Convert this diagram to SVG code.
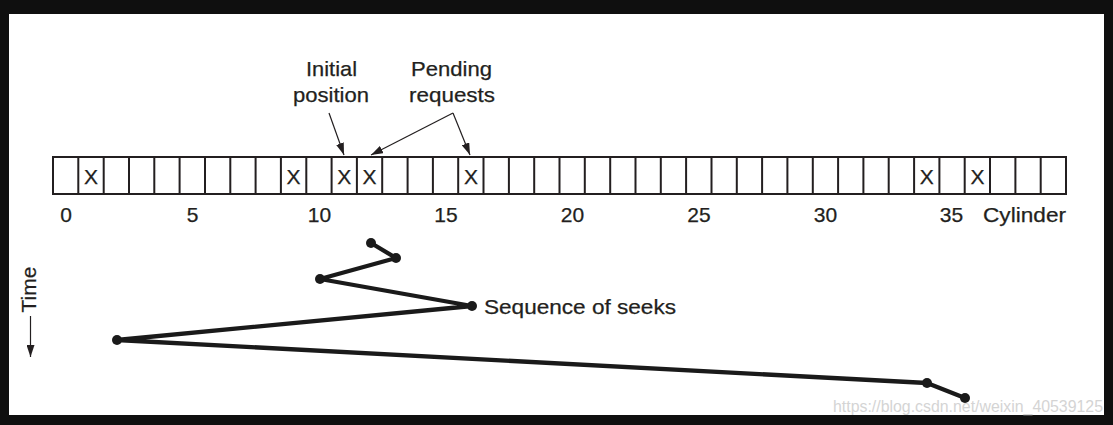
<svg xmlns="http://www.w3.org/2000/svg" width="1113" height="425" viewBox="0 0 1113 425">
  <style>
    .t { font-family: "Liberation Sans", Arial, sans-serif; font-size: 21px; fill: #231f20; stroke: #231f20; stroke-width: 0.25; }
    .cell { fill: #ffffff; stroke: #231f20; stroke-width: 2; }
    .thin { stroke: #231f20; stroke-width: 1.2; fill: none; }
    .seek { stroke: #1a1a1a; stroke-width: 4.3; fill: none; stroke-linejoin: round; stroke-linecap: round; }
    .dot { fill: #1a1a1a; }
    .wm { font-family: "Liberation Sans", Arial, sans-serif; font-size: 16px; fill: #d4d4d4; }
  </style>
  <defs>
    <marker id="ah" viewBox="0 0 12 8" refX="12" refY="4" markerWidth="12" markerHeight="8" markerUnits="userSpaceOnUse" orient="auto">
      <path d="M0,0 L12,4 L0,8 Z" fill="#231f20"/>
    </marker>
  </defs>
  <rect x="0" y="0" width="1113" height="425" fill="#0f0f0f"/>
  <rect x="9" y="14" width="1095" height="401" fill="#ffffff"/>

  <g id="cylinders">
    <rect class="cell" x="53" y="157" width="1013" height="37"/>
    <path class="thin" style="stroke-width:2" d="M78.3,157V194 M103.7,157V194 M129,157V194 M154.3,157V194 M179.6,157V194 M205,157V194 M230.3,157V194 M255.6,157V194 M280.9,157V194 M306.3,157V194 M331.6,157V194 M356.9,157V194 M382.2,157V194 M407.6,157V194 M432.9,157V194 M458.2,157V194 M483.5,157V194 M508.9,157V194 M534.2,157V194 M559.5,157V194 M584.8,157V194 M610.2,157V194 M635.5,157V194 M660.8,157V194 M686.1,157V194 M711.5,157V194 M736.8,157V194 M762.1,157V194 M787.4,157V194 M812.8,157V194 M838.1,157V194 M863.4,157V194 M888.7,157V194 M914.1,157V194 M939.4,157V194 M964.7,157V194 M990,157V194 M1015.4,157V194 M1040.7,157V194"/>
    <g class="t" text-anchor="middle">
      <text x="91" y="184">X</text>
      <text x="293.6" y="184">X</text>
      <text x="344.3" y="184">X</text>
      <text x="369.6" y="184">X</text>
      <text x="470.9" y="184">X</text>
      <text x="926.7" y="184">X</text>
      <text x="977.4" y="184">X</text>
    </g>
  </g>

  <g id="axis-labels" class="t" text-anchor="middle">
    <text x="66" y="222">0</text>
    <text x="192.5" y="222">5</text>
    <text x="319.5" y="222">10</text>
    <text x="446" y="222">15</text>
    <text x="572.5" y="222">20</text>
    <text x="699" y="222">25</text>
    <text x="825.5" y="222">30</text>
    <text x="951.5" y="222">35</text>
    <text x="983" y="222" text-anchor="start" textLength="83" lengthAdjust="spacingAndGlyphs">Cylinder</text>
  </g>

  <g id="initial-position">
    <text class="t" x="306" y="76" textLength="51" lengthAdjust="spacingAndGlyphs">Initial</text>
    <text class="t" x="293" y="102" textLength="76" lengthAdjust="spacingAndGlyphs">position</text>
  </g>

  <g id="pending-requests">
    <text class="t" x="411" y="76" textLength="81" lengthAdjust="spacingAndGlyphs">Pending</text>
    <text class="t" x="409" y="102" textLength="86" lengthAdjust="spacingAndGlyphs">requests</text>
  </g>

  <g id="time">
    <text class="t" transform="translate(36,289.5) rotate(-90)" text-anchor="middle">Time</text>
  </g>

  <g id="connectors">
    <line class="thin" x1="329" y1="113" x2="344" y2="155" marker-end="url(#ah)"/>
    <line class="thin" x1="453" y1="113" x2="371" y2="155" marker-end="url(#ah)"/>
    <line class="thin" x1="453" y1="113" x2="470" y2="155" marker-end="url(#ah)"/>
    <line class="thin" x1="30.5" y1="316" x2="30.5" y2="357" marker-end="url(#ah)"/>
  </g>

  <g id="seeks">
    <polyline class="seek" points="371,243 396,258 320,279 472,306 117,340 927,383 965,398"/>
    <g class="dot">
      <circle cx="371" cy="243" r="5"/>
      <circle cx="396" cy="258" r="5"/>
      <circle cx="320" cy="279" r="5"/>
      <circle cx="472" cy="306" r="5"/>
      <circle cx="117" cy="340" r="5"/>
      <circle cx="927" cy="383" r="5"/>
      <circle cx="965" cy="398" r="5"/>
    </g>
    <text class="t" x="484" y="314" textLength="192" lengthAdjust="spacingAndGlyphs">Sequence of seeks</text>
  </g>

  <text class="wm" x="833" y="412" textLength="270" lengthAdjust="spacingAndGlyphs">https://blog.csdn.net/weixin_40539125</text>
</svg>
